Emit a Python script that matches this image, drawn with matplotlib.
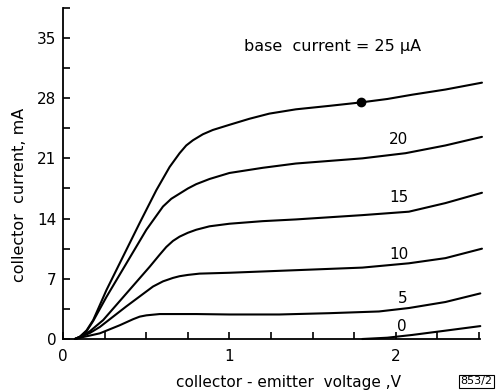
import numpy as np
import matplotlib
matplotlib.use('Agg')
import matplotlib.pyplot as plt
from matplotlib.ticker import MultipleLocator

plt.rcParams['font.family'] = 'DejaVu Sans'

# base current (uA) -> collector current curves
base_currents = ['25', '20', '15', '10', '5', '0']

v25 = [0.07, 0.10, 0.14, 0.18, 0.26, 0.36, 0.46, 0.56, 0.64, 0.70, 0.74, 0.78, 0.84, 0.90, 1.0,
       1.12, 1.24, 1.4, 1.6, 1.79, 1.95, 2.10, 2.3, 2.52]
i25 = [0.0, 0.27, 1.0, 2.2, 5.7, 9.6, 13.5, 17.3, 20.0, 21.6, 22.5, 23.1, 23.8, 24.3, 24.9,
       25.6, 26.2, 26.7, 27.1, 27.5, 27.9, 28.4, 29.0, 29.8]

v20 = [0.07, 0.10, 0.14, 0.18, 0.26, 0.38, 0.50, 0.60, 0.65, 0.70, 0.75, 0.80, 0.88, 1.0, 1.2,
       1.4, 1.6, 1.8, 2.06, 2.3, 2.52]
i20 = [0.0, 0.25, 0.9, 2.1, 4.9, 8.8, 12.7, 15.4, 16.3, 16.9, 17.5, 18.0, 18.6, 19.3, 19.9,
       20.4, 20.7, 21.0, 21.6, 22.5, 23.5]

v15 = [0.07, 0.10, 0.16, 0.24, 0.38, 0.52, 0.58, 0.62, 0.66, 0.70, 0.75, 0.80, 0.88, 1.0, 1.2,
       1.4, 1.8, 2.08, 2.3, 2.52]
i15 = [0.0, 0.25, 0.9, 2.2, 5.3, 8.4, 9.8, 10.7, 11.4, 11.9, 12.35, 12.7, 13.1, 13.4, 13.7,
       13.9, 14.4, 14.8, 15.8, 17.0]

v10 = [0.07, 0.10, 0.16, 0.22, 0.38, 0.54, 0.60, 0.66, 0.70, 0.75, 0.82, 1.0, 1.4, 1.8,
       2.08, 2.3, 2.52]
i10 = [0.0, 0.2, 0.7, 1.4, 3.8, 6.1, 6.7, 7.1, 7.3, 7.45, 7.6, 7.7, 8.0, 8.3,
       8.8, 9.4, 10.5]

v5 = [0.07, 0.10, 0.16, 0.22, 0.34, 0.42, 0.46, 0.50, 0.58, 0.8, 1.0, 1.3, 1.6, 1.9,
      2.08, 2.3, 2.51]
i5 = [0.0, 0.15, 0.4, 0.66, 1.6, 2.3, 2.6, 2.75, 2.9, 2.9, 2.85, 2.85, 3.0, 3.2,
      3.6, 4.3, 5.3]

v0 = [1.80, 1.95, 2.10, 2.30, 2.51]
i0 = [0.0, 0.15, 0.47, 0.97, 1.5]

# operating point marked on the 25 uA curve
dot_v, dot_i = [1.79], [27.5]

curves = [(v25, i25), (v20, i20), (v15, i15), (v10, i10), (v5, i5), (v0, i0)]
label_pos = [None, (2.02, 23.2), (2.02, 16.5), (2.02, 9.85), (2.04, 4.7), (2.04, 1.5)]

fig = plt.figure(figsize=(5.0, 3.91), dpi=100)
ax = fig.add_axes([0.1266, 0.133, 0.834, 0.847])

for (v, i) in curves:
    ax.plot(v, i, color='black', lw=1.5, clip_on=False,
            solid_capstyle='round', solid_joinstyle='round')
ax.plot(dot_v, dot_i, 'o', color='black', ms=6)

for lab, pos in zip(base_currents, label_pos):
    if pos is None:
        continue
    ax.text(pos[0], pos[1], lab, ha='center', va='center', fontsize=11)

ax.text(1.62, 34.0, 'base  current = 25 \u03bcA', ha='center', va='center', fontsize=11.5)

ax.set_xlim(0, 2.51)
ax.set_ylim(0, 38.5)
ax.xaxis.set_minor_locator(MultipleLocator(0.25))
ax.yaxis.set_minor_locator(MultipleLocator(3.5))
ax.set_xticks([0, 1, 2])
ax.set_xticklabels(['0', '1', '2'])
ax.set_yticks([0, 7, 14, 21, 28, 35])
ax.tick_params(which='both', direction='in', width=1.2, labelsize=11)
ax.tick_params(which='major', length=5)
ax.tick_params(which='minor', length=5)
ax.tick_params(axis='x', pad=7)
ax.tick_params(axis='y', pad=5)

for s in ['top', 'right']:
    ax.spines[s].set_visible(False)
for s in ['left', 'bottom']:
    ax.spines[s].set_linewidth(1.3)

ax.set_ylabel('collector  current, mA', fontsize=11.5)
ax.yaxis.set_label_coords(-0.088, 0.435)
ax.set_xlabel('collector - emitter  voltage ,V', fontsize=11)
ax.xaxis.set_label_coords(0.54, -0.108)

fig.text(0.953, 0.012, '853/2', ha='center', va='bottom', fontsize=8,
         bbox=dict(boxstyle='square,pad=0.15', fc='white', ec='black', lw=0.8))

fig.savefig('out.png', dpi=100)
